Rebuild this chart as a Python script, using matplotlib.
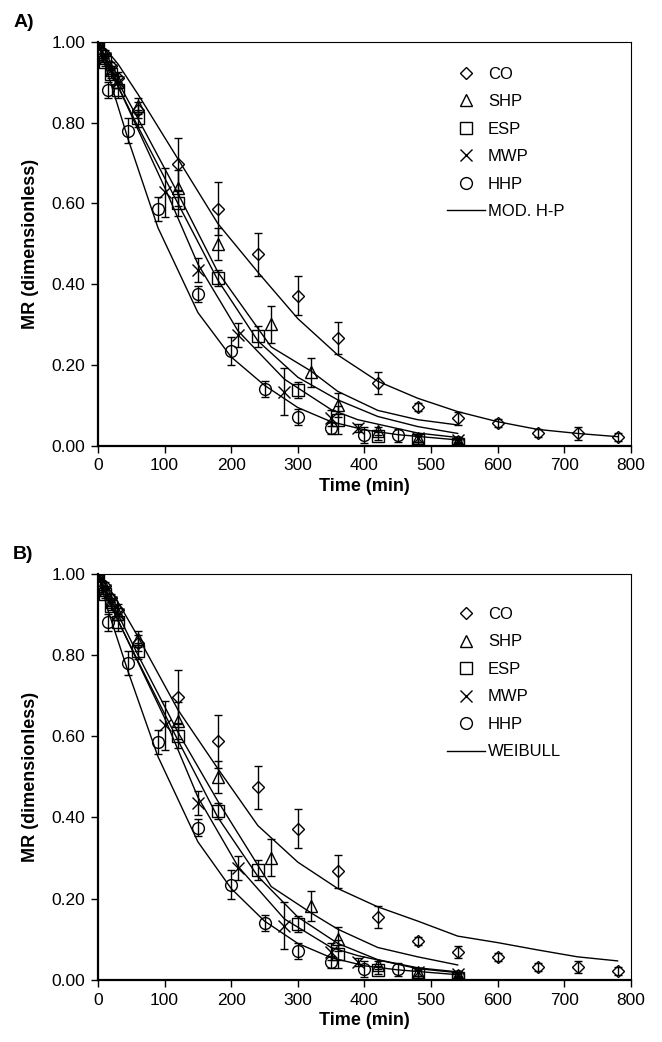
import matplotlib
matplotlib.use("Agg")
import matplotlib.pyplot as plt
from matplotlib.ticker import FormatStrFormatter

plt.rcParams['font.family'] = ['Liberation Sans', 'DejaVu Sans']

# experimental data (time in min, MR, error)
co_t = [0, 10, 20, 30, 60, 120, 180, 240, 300, 360, 420, 480, 540, 600, 660, 720, 780]
co_mr = [1.00, 0.97, 0.94, 0.91, 0.83, 0.697, 0.587, 0.474, 0.372, 0.267, 0.155, 0.096, 0.068, 0.056, 0.033, 0.031, 0.023]
co_err = [0, 0.01, 0.01, 0.015, 0.02, 0.065, 0.065, 0.053, 0.048, 0.04, 0.027, 0.01, 0.015, 0.01, 0.01, 0.015, 0.01]

shp_t = [0, 10, 20, 30, 60, 120, 180, 260, 320, 360, 420, 480, 540]
shp_mr = [1.00, 0.96, 0.93, 0.90, 0.84, 0.638, 0.50, 0.301, 0.182, 0.101, 0.037, 0.02, 0.012]
shp_err = [0, 0.01, 0.01, 0.015, 0.02, 0.045, 0.04, 0.046, 0.036, 0.03, 0.01, 0.01, 0.005]

esp_t = [0, 10, 20, 30, 60, 120, 180, 240, 300, 360, 420, 480, 540]
esp_mr = [1.00, 0.95, 0.92, 0.88, 0.81, 0.60, 0.415, 0.271, 0.138, 0.064, 0.024, 0.015, 0.004]
esp_err = [0, 0.01, 0.01, 0.02, 0.02, 0.03, 0.02, 0.025, 0.02, 0.035, 0.01, 0.01, 0.005]

mwp_t = [0, 10, 20, 30, 100, 150, 210, 280, 350, 390, 480, 540]
mwp_mr = [1.00, 0.96, 0.93, 0.90, 0.627, 0.435, 0.275, 0.134, 0.07, 0.045, 0.02, 0.015]
mwp_err = [0, 0.01, 0.01, 0.015, 0.06, 0.03, 0.03, 0.058, 0.02, 0.01, 0.01, 0.005]

hhp_t = [0, 5, 15, 45, 90, 150, 200, 250, 300, 350, 400, 450, 540]
hhp_mr = [1.00, 0.97, 0.88, 0.78, 0.586, 0.375, 0.235, 0.141, 0.071, 0.044, 0.027, 0.026, 0.01]
hhp_err = [0, 0.01, 0.02, 0.03, 0.03, 0.02, 0.035, 0.02, 0.02, 0.015, 0.02, 0.015, 0.005]

# model predictions at the experimental times
hp_co = [1.0, 0.98, 0.965, 0.945, 0.87, 0.71, 0.55, 0.43, 0.315, 0.225, 0.16, 0.118, 0.085, 0.06, 0.041, 0.031, 0.023]
hp_shp = [1.0, 0.965, 0.93, 0.90, 0.81, 0.625, 0.43, 0.245, 0.185, 0.135, 0.088, 0.065, 0.052]
hp_esp = [1.0, 0.96, 0.925, 0.89, 0.79, 0.60, 0.41, 0.26, 0.17, 0.114, 0.073, 0.048, 0.031]
hp_mwp = [1.0, 0.96, 0.925, 0.89, 0.64, 0.45, 0.285, 0.165, 0.09, 0.065, 0.032, 0.021]
hp_hhp = [1.0, 0.97, 0.92, 0.76, 0.54, 0.33, 0.22, 0.15, 0.095, 0.06, 0.04, 0.028, 0.015]

wb_co = [1.0, 0.975, 0.955, 0.93, 0.845, 0.665, 0.52, 0.38, 0.29, 0.225, 0.18, 0.145, 0.108, 0.092, 0.074, 0.057, 0.047]
wb_shp = [1.0, 0.965, 0.93, 0.90, 0.80, 0.61, 0.44, 0.23, 0.165, 0.125, 0.08, 0.057, 0.037]
wb_esp = [1.0, 0.96, 0.92, 0.885, 0.785, 0.59, 0.40, 0.255, 0.155, 0.09, 0.05, 0.03, 0.02]
wb_mwp = [1.0, 0.96, 0.92, 0.885, 0.645, 0.45, 0.28, 0.15, 0.08, 0.06, 0.028, 0.018]
wb_hhp = [1.0, 0.97, 0.91, 0.76, 0.55, 0.34, 0.225, 0.145, 0.09, 0.055, 0.035, 0.025, 0.013]

labels = ["CO", "SHP", "ESP", "MWP", "HHP"]
markers = ["D", "^", "s", "x", "o"]
sizes = [6, 9, 8.5, 8, 8.5]
times = [co_t, shp_t, esp_t, mwp_t, hhp_t]
values = [co_mr, shp_mr, esp_mr, mwp_mr, hhp_mr]
errors = [co_err, shp_err, esp_err, mwp_err, hhp_err]

fig = plt.figure(figsize=(6.62, 10.42), dpi=100)
ax_a = fig.add_axes([0.148, 0.572, 0.805, 0.388])
ax_b = fig.add_axes([0.148, 0.0595, 0.805, 0.390])

panels = [
    (ax_a, [hp_co, hp_shp, hp_esp, hp_mwp, hp_hhp], "MOD. H-P", "A)", 0.960, 0.938),
    (ax_b, [wb_co, wb_shp, wb_esp, wb_mwp, wb_hhp], "WEIBULL", "B)", 0.449, 0.918),
]

for ax, fits, model_name, tag, ax_top, leg_y in panels:
    handles = []
    for t, mr, err, m, ms, lab in zip(times, values, errors, markers, sizes, labels):
        ax.errorbar(t, mr, yerr=err, fmt="none", ecolor="black",
                    elinewidth=1, capsize=3, capthick=1, zorder=2)
        h, = ax.plot(t, mr, linestyle="none", marker=m, markersize=ms,
                     markerfacecolor="none", markeredgecolor="black",
                     markeredgewidth=1, label=lab, zorder=3)
        handles.append(h)
    for t, f in zip(times, fits):
        line, = ax.plot(t, f, color="black", linewidth=1, zorder=1)
    line.set_label(model_name)
    handles.append(line)

    ax.set_xlim(0, 800)
    ax.set_ylim(0, 1)
    ax.set_xticks(range(0, 801, 100))
    ax.set_yticks([0, 0.2, 0.4, 0.6, 0.8, 1.0])
    ax.yaxis.set_major_formatter(FormatStrFormatter("%.2f"))
    ax.tick_params(direction="out", length=5, width=1, labelsize=12.5,
                   top=False, right=False, pad=4)
    for s in ["left", "bottom"]:
        ax.spines[s].set_linewidth(1.6)
    for s in ["top", "right"]:
        ax.spines[s].set_linewidth(0.8)
    ax.set_xlabel("Time (min)", fontsize=13, fontweight="bold", labelpad=3)
    ax.set_ylabel("MR (dimensionless)", fontsize=13, fontweight="bold", labelpad=9)

    ax.legend(handles=handles, loc="upper left", bbox_to_anchor=(0.655, leg_y),
              frameon=False, fontsize=12, handlelength=2.3, handletextpad=0.15,
              labelspacing=0.75, borderpad=0, borderaxespad=0)

    fig.text(0.02, ax_top + 0.0185, tag, fontsize=14, fontweight="bold", va="center")

plt.savefig("out.png", dpi=100)
